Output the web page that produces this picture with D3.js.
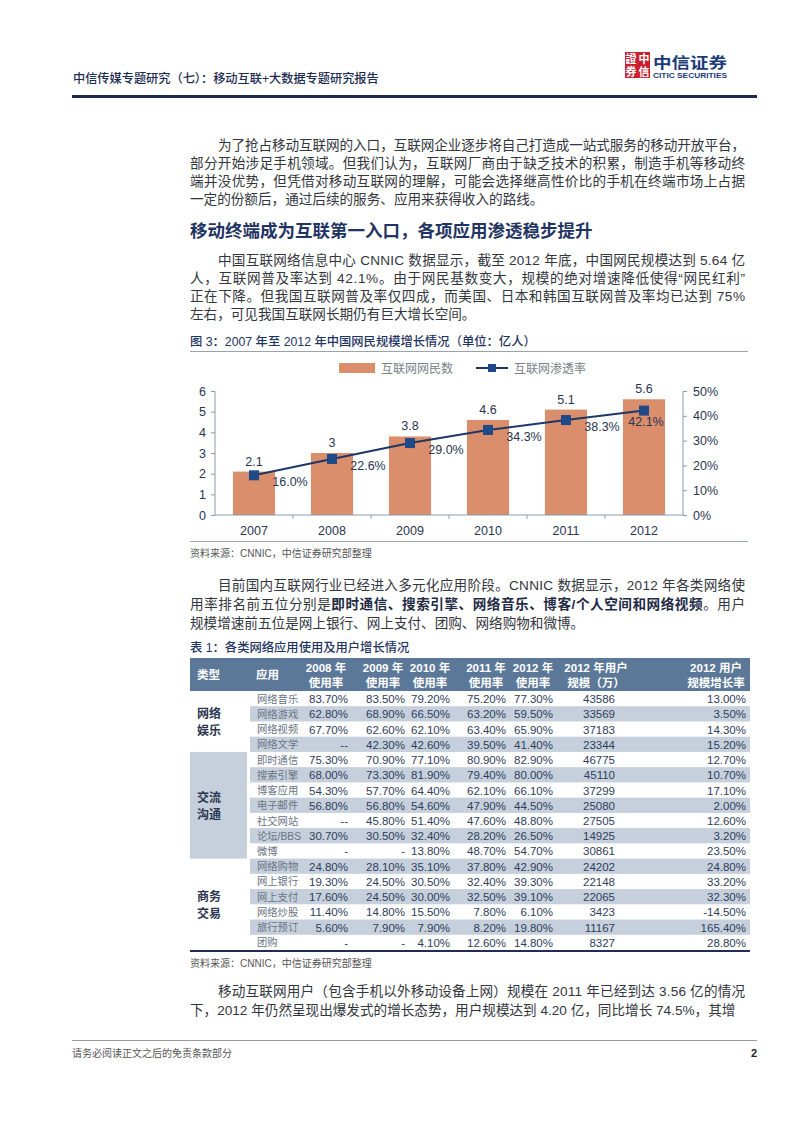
<!DOCTYPE html>
<html><head><meta charset="utf-8">
<script src="https://cdn.jsdelivr.net/npm/d3@7"></script>
<style>
body{margin:0;background:#fff}
svg{display:block}
text{font-family:"Liberation Sans","Noto Sans CJK SC",sans-serif}
</style>
</head><body>
<svg id="page" width="802" height="1133"></svg>
<script>
// ---------- chart data ----------
const years = ["2007","2008","2009","2010","2011","2012"];
const users = [2.1, 3, 3.8, 4.6, 5.1, 5.6];
const userLabels = ["2.1","3","3.8","4.6","5.1","5.6"];
const penetration = [16.0, 22.6, 29.0, 34.3, 38.3, 42.1];
const leftTicks = [0,1,2,3,4,5,6];
const rightTicks = [0,10,20,30,40,50];
const seriesNames = ["互联网网民数","互联网渗透率"];

// ---------- table data ----------
const typeNames = [["网络","娱乐"],["交流","沟通"],["商务","交易"]];
const typeCounts = [4,7,6];
const headerLines = [["类型"],["应用"],["2008 年","使用率"],["2009 年","使用率"],["2010 年","使用率"],["2011 年","使用率"],["2012 年","使用率"],["2012 年用户","规模（万）"],["2012 用户","规模增长率"]];
const apps = ["网络音乐","网络游戏","网络视频","网络文学","即时通信","搜索引擎","博客应用","电子邮件","社交网站","论坛/BBS","微博","网络购物","网上银行","网上支付","网络炒股","旅行预订","团购"];
const rate2008 = ["83.70%","62.80%","67.70%","--","75.30%","68.00%","54.30%","56.80%","--","30.70%","-","24.80%","19.30%","17.60%","11.40%","5.60%","-"];
const rate2009 = ["83.50%","68.90%","62.60%","42.30%","70.90%","73.30%","57.70%","56.80%","45.80%","30.50%","-","28.10%","24.50%","24.50%","14.80%","7.90%","-"];
const rate2010 = ["79.20%","66.50%","62.10%","42.60%","77.10%","81.90%","64.40%","54.60%","51.40%","32.40%","13.80%","35.10%","30.50%","30.00%","15.50%","7.90%","4.10%"];
const rate2011 = ["75.20%","63.20%","63.40%","39.50%","80.90%","79.40%","62.10%","47.90%","47.60%","28.20%","48.70%","37.80%","32.40%","32.50%","7.80%","8.20%","12.60%"];
const rate2012 = ["77.30%","59.50%","65.90%","41.40%","82.90%","80.00%","66.10%","44.50%","48.80%","26.50%","54.70%","42.90%","39.30%","39.10%","6.10%","19.80%","14.80%"];
const users2012 = ["43586","33569","37183","23344","46775","45110","37299","25080","27505","14925","30861","24202","22148","22065","3423","11167","8327"];
const growth2012 = ["13.00%","3.50%","14.30%","15.20%","12.70%","10.70%","17.10%","2.00%","12.60%","3.20%","23.50%","24.80%","33.20%","32.30%","-14.50%","165.40%","28.80%"];

// ---------- text ----------
const headerTitle = "中信传媒专题研究（七）：移动互联+大数据专题研究报告";
const para1 = [
 "为了抢占移动互联网的入口，互联网企业逐步将自己打造成一站式服务的移动开放平台，",
 "部分开始涉足手机领域。但我们认为，互联网厂商由于缺乏技术的积累，制造手机等移动终",
 "端并没优势，但凭借对移动互联网的理解，可能会选择继高性价比的手机在终端市场上占据",
 "一定的份额后，通过后续的服务、应用来获得收入的路线。"];
const heading = "移动终端成为互联第一入口，各项应用渗透稳步提升";
const para2 = [
 "中国互联网络信息中心 CNNIC 数据显示，截至 2012 年底，中国网民规模达到 5.64 亿",
 "人，互联网普及率达到 42.1%。由于网民基数变大，规模的绝对增速降低使得“网民红利”",
 "正在下降。但我国互联网普及率仅四成，而美国、日本和韩国互联网普及率均已达到 75%",
 "左右，可见我国互联网长期仍有巨大增长空间。"];
const figCaption = "图 3：2007 年至 2012 年中国网民规模增长情况（单位：亿人）";
const sourceText = "资料来源：CNNIC，中信证券研究部整理";
const para3 = [
 [["目前国内互联网行业已经进入多元化应用阶段。CNNIC 数据显示，2012 年各类网络使",false]],
 [["用率排名前五位分别是",false],["即时通信、搜索引擎、网络音乐、博客/个人空间和网络视频",true],["。用户",false]],
 [["规模增速前五位是网上银行、网上支付、团购、网络购物和微博。",false]]];
const tableCaption = "表 1：各类网络应用使用及用户增长情况";
const para4 = [
 "移动互联网用户（包含手机以外移动设备上网）规模在 2011 年已经到达 3.56 亿的情况",
 "下，2012 年仍然呈现出爆发式的增长态势，用户规模达到 4.20 亿，同比增长 74.5%，其增"];
const footerText = "请务必阅读正文之后的免责条款部分";

const svg = d3.select("#page");
const NAVY = "#1f3462", BODY = "#33363d";

// ---------- header ----------
svg.append("text").attr("x",73).attr("y",83).attr("font-size",12.2).attr("fill","#1c2b50").attr("font-weight",500).text(headerTitle);
svg.append("line").attr("x1",72).attr("x2",757).attr("y1",96.5).attr("y2",96.5).attr("stroke","#1c2a4f").attr("stroke-width",3);
// logo
const logo = svg.append("g");
logo.append("rect").attr("x",625).attr("y",52).attr("width",25).attr("height",26).attr("fill","#c8202f");
[["證",631,63],["中",644,63],["券",631,76],["信",644,76]].forEach(d=>{
  logo.append("text").attr("x",d[1]).attr("y",d[2]).attr("text-anchor","middle").attr("font-size",11).attr("font-weight","bold").attr("fill","#fff").text(d[0]);
});
logo.append("text").attr("x",653).attr("y",68).attr("font-size",15).attr("font-weight","bold").attr("fill","#1b3a7a").attr("textLength",74).attr("lengthAdjust","spacingAndGlyphs").text("中信证券");
logo.append("text").attr("x",653).attr("y",78).attr("font-size",7).attr("font-weight","bold").attr("fill","#1b3a7a").attr("textLength",74).attr("lengthAdjust","spacingAndGlyphs").text("CITIC SECURITIES");

// ---------- paragraph helper ----------
const LEFT = 190, RIGHT = 745, INDENT = 218, FS = 13.6;
function para(lines, ys){
  lines.forEach((ln,i)=>{
    const x = i===0 ? INDENT : LEFT;
    const t = svg.append("text").attr("x",x).attr("y",ys[i]+5).attr("font-size",FS).attr("fill",BODY);
    const parts = Array.isArray(ln) ? ln : [[ln,false]];
    parts.forEach(p=>{ t.append("tspan").attr("font-weight",p[1]?"bold":"normal").attr("fill",p[1]?"#1f2a44":BODY).text(p[0]); });
    if(i < lines.length-1) t.attr("textLength",RIGHT-x).attr("lengthAdjust","spacing");
  });
}
para(para1,[145,163,181,199]);
svg.append("text").attr("x",190).attr("y",237).attr("font-size",17.5).attr("font-weight","bold").attr("fill",NAVY).text(heading);
para(para2,[260,278,296,314]);

// ---------- figure caption ----------
svg.append("text").attr("x",190).attr("y",346).attr("font-size",12.3).attr("font-weight",500).attr("fill",NAVY).text(figCaption);
svg.append("line").attr("x1",190).attr("x2",748).attr("y1",351.5).attr("y2",351.5).attr("stroke","#9aa3b0").attr("stroke-width",1);

// ---------- chart ----------
const x = d3.scaleBand().domain(years).range([215,683]).paddingInner(0.46).paddingOuter(0.23);
const yL = d3.scaleLinear().domain([0,6]).range([515,391]);
const yR = d3.scaleLinear().domain([0,50]).range([515,391]);
const AX = "#8a9ab2", LBL = "#2a3550";
const chart = svg.append("g");

chart.selectAll("rect.bar").data(years).join("rect").attr("class","bar")
  .attr("x",d=>x(d)).attr("width",x.bandwidth())
  .attr("y",(d,i)=>yL(users[i])).attr("height",(d,i)=>yL(0)-yL(users[i]))
  .attr("fill","#da8e6b");

const gl = chart.append("g").attr("transform","translate(215,0)")
  .call(d3.axisLeft(yL).tickValues(leftTicks).tickSize(4).tickPadding(5).tickFormat(d3.format("d")));
const gr = chart.append("g").attr("transform","translate(683,0)")
  .call(d3.axisRight(yR).tickValues(rightTicks).tickSize(4).tickPadding(6).tickFormat(d=>d+"%"));
const gb = chart.append("g").attr("transform","translate(0,515)")
  .call(d3.axisBottom(x).tickSize(0).tickPadding(11));
const bounds = years.map(d=>x(d)-x.step()*x.paddingInner()/2).slice(1);
chart.selectAll("line.bt").data(bounds).join("line").attr("class","bt")
  .attr("x1",d=>d).attr("x2",d=>d).attr("y1",515).attr("y2",519).attr("stroke",AX);
[gl,gr,gb].forEach(g=>{
  g.select(".domain").attr("stroke",AX);
  g.selectAll(".tick line").attr("stroke",AX);
  g.selectAll(".tick text").attr("fill",LBL).attr("font-size",12.5).attr("font-family","Liberation Sans, sans-serif");
});
gb.select(".domain").attr("d","M215,0H683");
gl.select(".domain").attr("d","M-4,391.5H0V515");
gr.select(".domain").attr("d","M4,391.5H0V515");

chart.selectAll("text.bl").data(years).join("text").attr("class","bl")
  .attr("x",d=>x(d)+x.bandwidth()/2).attr("y",(d,i)=>yL(users[i])-6)
  .attr("text-anchor","middle").attr("font-size",12.5).attr("fill",LBL).text((d,i)=>userLabels[i]);

const cx = d=>x(d)+x.bandwidth()/2;
chart.append("path").datum(years)
  .attr("d",d3.line().x(cx).y((d,i)=>yR(penetration[i])))
  .attr("fill","none").attr("stroke","#1d3767").attr("stroke-width",2);
chart.selectAll("rect.mk").data(years).join("rect").attr("class","mk")
  .attr("x",d=>cx(d)-5).attr("y",(d,i)=>yR(penetration[i])-5).attr("width",10).attr("height",10)
  .attr("fill","#1f4a87");
chart.selectAll("text.pl").data(years).join("text").attr("class","pl")
  .attr("x",(d,i)=>cx(d)+(i===5?2:36)).attr("y",(d,i)=>yR(penetration[i])+(i===5?15:11))
  .attr("text-anchor","middle").attr("font-size",12.5).attr("fill",LBL)
  .text((d,i)=>penetration[i].toFixed(1)+"%");

// legend
const lg = svg.append("g");
lg.append("rect").attr("x",339).attr("y",363).attr("width",36).attr("height",10).attr("fill","#da8e6b");
lg.append("text").attr("x",381).attr("y",372.5).attr("font-size",12).attr("fill","#7a7f88").text(seriesNames[0]);
lg.append("line").attr("x1",476).attr("x2",508).attr("y1",368).attr("y2",368).attr("stroke","#1d3767").attr("stroke-width",2);
lg.append("rect").attr("x",488).attr("y",364).attr("width",8).attr("height",8).attr("fill","#1f4a87");
lg.append("text").attr("x",514).attr("y",372.5).attr("font-size",12).attr("fill","#7a7f88").text(seriesNames[1]);

// source
svg.append("line").attr("x1",190).attr("x2",748).attr("y1",541.5).attr("y2",541.5).attr("stroke","#9aa3b0").attr("stroke-width",1);
svg.append("text").attr("x",190).attr("y",557).attr("font-size",10).attr("fill","#555").text(sourceText);

para(para3,[585,604,623]);

// ---------- table ----------
svg.append("text").attr("x",190).attr("y",652).attr("font-size",12.3).attr("font-weight",500).attr("fill",NAVY).text(tableCaption);
const TT = 658, TH = 691, TB = 950;
const rowY = d3.scaleBand().domain(d3.range(apps.length)).range([TH,TB]);
const tbl = svg.append("g");
tbl.append("rect").attr("x",190).attr("y",TT).attr("width",560).attr("height",TH-TT).attr("fill","#5c7898");
tbl.selectAll("rect.z").data(d3.range(apps.length).filter(i=>i%2===1)).join("rect").attr("class","z")
  .attr("x",250).attr("width",500).attr("y",i=>rowY(i)).attr("height",rowY.bandwidth()).attr("fill","#c5d0dc");
let start = 0;
typeNames.forEach((nm,gi)=>{
  const y0 = rowY(start), y1 = rowY(start+typeCounts[gi]-1)+rowY.bandwidth();
  if(gi===1) tbl.append("rect").attr("x",190).attr("width",57).attr("y",y0).attr("height",y1-y0).attr("fill","#c5d0dc");
  const mid = (y0+y1)/2;
  nm.forEach((s,k)=>tbl.append("text").attr("x",197).attr("y",mid+(k===0?-3:14)).attr("font-size",12).attr("font-weight","bold").attr("fill","#2a3550").text(s));
  start += typeCounts[gi];
});
const hx = [[197,"start"],[256,"start"],[326,"middle"],[383,"middle"],[430,"middle"],[486,"middle"],[533,"middle"],[596,"middle"],[716,"middle"]];
headerLines.forEach((hl,i)=>{
  hl.forEach((s,k)=>{
    const yy = hl.length===1 ? 679 : (k===0?672:687);
    tbl.append("text").attr("x",hx[i][0]).attr("y",yy).attr("text-anchor",hx[i][1]).attr("font-size",11.5).attr("font-weight","bold").attr("fill","#fff").text(s);
  });
});
const cols = [rate2008,rate2009,rate2010,rate2011,rate2012,users2012,growth2012];
const colRight = [348,405,450,506,553,615,746];
tbl.selectAll("text.app").data(apps).join("text").attr("class","app")
  .attr("x",257).attr("y",(d,i)=>rowY(i)+rowY.bandwidth()/2+4).attr("font-size",10.3).attr("fill","#6a7383").text(d=>d);
cols.forEach((col,ci)=>{
  tbl.selectAll("text.c"+ci).data(col).join("text").attr("class","c"+ci)
    .attr("x",colRight[ci]).attr("y",(d,i)=>rowY(i)+rowY.bandwidth()/2+4.5)
    .attr("text-anchor","end").attr("font-size",11.5).attr("fill","#2f3d5b").text(d=>d);
});
tbl.append("line").attr("x1",190).attr("x2",750).attr("y1",TB+1).attr("y2",TB+1).attr("stroke","#1f2d52").attr("stroke-width",2);
svg.append("text").attr("x",190).attr("y",967).attr("font-size",10).attr("fill","#555").text(sourceText);

para(para4,[991,1010]);

// ---------- footer ----------
svg.append("line").attr("x1",72).attr("x2",757).attr("y1",1040.5).attr("y2",1040.5).attr("stroke","#9a9a9a").attr("stroke-width",1);
svg.append("text").attr("x",72).attr("y",1057).attr("font-size",10).attr("fill","#555").text(footerText);
svg.append("text").attr("x",757).attr("y",1057).attr("text-anchor","end").attr("font-size",11).attr("font-weight","bold").attr("fill","#222").text("2");
</script>
</body></html>
